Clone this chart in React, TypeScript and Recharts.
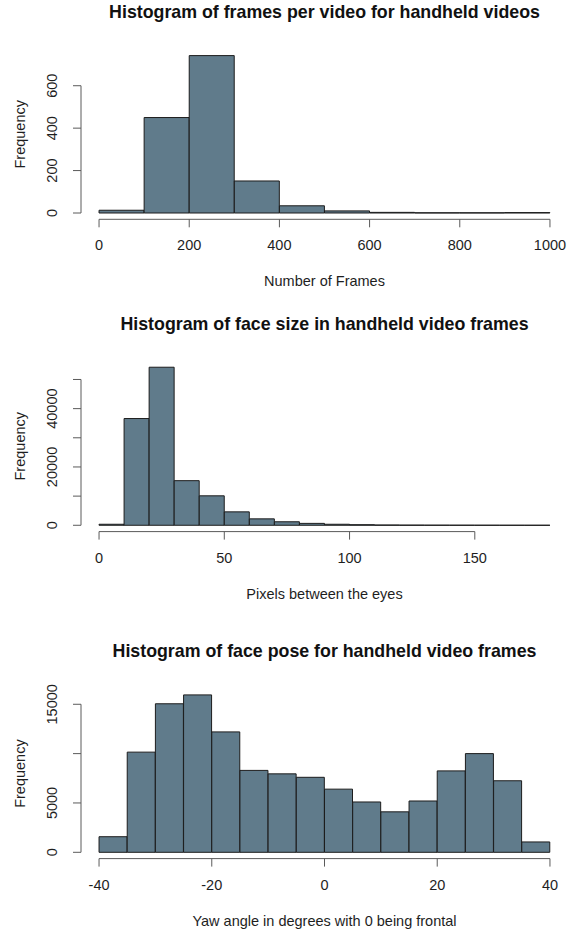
import React from "react";
import { Bar, BarChart, ReferenceLine, XAxis, YAxis } from "recharts";

const FONT = '"Liberation Sans", Arial, Helvetica, sans-serif';
const FILL = "#607b8b";
const EDGE = "#1c1c1c";
const AXIS = "#5a5a5a";
const TEXT = "#1e1e1e";

// frames per video
const frameEdges = [0, 100, 200, 300, 400, 500, 600, 700, 800, 900, 1000];
const frameCounts = [13, 450, 742, 151, 34, 10, 3, 1, 1, 2];
const frameXTicks = [0, 200, 400, 600, 800, 1000];
const frameYTicks = [0, 200, 400, 600];
const frameYLabels = ["0", "200", "400", "600"];

// distance between the eyes
const sizeEdges = [0, 10, 20, 30, 40, 50, 60, 70, 80, 90, 100, 110, 120, 130, 140, 150, 160, 170, 180];
const sizeCounts = [350, 36600, 54200, 15300, 10100, 4600, 2200, 1200, 650, 350, 200, 100, 60, 40, 30, 20, 10, 5];
const sizeXTicks = [0, 50, 100, 150];
const sizeYTicks = [0, 10000, 20000, 30000, 40000, 50000];
const sizeYLabels = ["0", "", "20000", "", "40000", ""];

// yaw angle
const yawEdges = [-40, -35, -30, -25, -20, -15, -10, -5, 0, 5, 10, 15, 20, 25, 30, 35, 40];
const yawCounts = [1580, 10150, 15050, 15950, 12200, 8300, 7950, 7600, 6400, 5100, 4100, 5200, 8250, 10000, 7250, 1050];
const yawXTicks = [-40, -20, 0, 20, 40];
const yawYTicks = [0, 5000, 10000, 15000];
const yawYLabels = ["0", "5000", "", "15000"];

const W = 573;
const Y_AXIS_W = 81;
const RIGHT = 5;
const PLOT_W = W - Y_AXIS_W - RIGHT;
// base graphics pads each axis range by 4% on both sides
const BIN_PAD = (PLOT_W * 0.04) / 1.08;

type HistProps = {
  title: string;
  xLabel: string;
  edges: number[];
  counts: number[];
  xTicks: number[];
  yTicks: number[];
  yLabels: string[];
  top: number;
  height: number;
  plotTop: number;
  axisHeight: number;
  titleY: number;
};

function Histogram(p: HistProps) {
  const data = p.counts.map((c, i) => ({
    bin: `${p.edges[i]}-${p.edges[i + 1]}`,
    mid: (p.edges[i] + p.edges[i + 1]) / 2,
    count: c,
  }));
  const span = p.edges[p.edges.length - 1] - p.edges[0];
  const xLo = p.edges[0] - span * 0.04;
  const xHi = p.edges[p.edges.length - 1] + span * 0.04;
  const maxC = Math.max(...p.counts);
  const yLo = -maxC * 0.04;
  const yHi = maxC * 1.04;
  const xFirst = p.xTicks[0];
  const xLast = p.xTicks[p.xTicks.length - 1];
  const yFirst = p.yTicks[0];
  const yLast = p.yTicks[p.yTicks.length - 1];

  return (
    <div style={{ position: "absolute", left: 0, top: p.top, width: W, height: p.height }}>
      <div
        style={{
          position: "absolute",
          left: Y_AXIS_W,
          width: PLOT_W,
          top: p.titleY - 12,
          height: 22,
          lineHeight: "22px",
          textAlign: "center",
          fontWeight: "bold",
          fontSize: 17.8,
          color: "#111",
          whiteSpace: "nowrap",
        }}
      >
        {p.title}
      </div>
      <BarChart
        width={W}
        height={p.height}
        data={data}
        margin={{ top: p.plotTop, right: RIGHT, left: 0, bottom: 0 }}
        barCategoryGap={0}
        barGap={0}
      >
        <XAxis
          xAxisId="val"
          dataKey="mid"
          type="number"
          domain={[xLo, xHi]}
          allowDataOverflow
          ticks={p.xTicks}
          interval={0}
          height={p.axisHeight}
          axisLine={false}
          stroke={AXIS}
          tickLine={{ stroke: AXIS }}
          tickSize={8}
          tickMargin={18}
          tick={({ x, y, payload }: any) => (
            <text x={x} y={y} dy="0.35em" textAnchor="middle" fontSize={14.5} fontFamily={FONT} fill={TEXT}>
              {payload.value}
            </text>
          )}
          label={(lp: any) => {
            const vb = lp.viewBox;
            return (
              <text
                x={vb.x + vb.width / 2}
                y={vb.y + 62}
                dy="0.35em"
                textAnchor="middle"
                fontSize={14.5}
                fontFamily={FONT}
                fill={TEXT}
              >
                {p.xLabel}
              </text>
            );
          }}
        />
        <XAxis xAxisId="bins" dataKey="bin" hide height={0} padding={{ left: BIN_PAD, right: BIN_PAD }} />
        <YAxis
          type="number"
          domain={[yLo, yHi]}
          allowDataOverflow
          ticks={p.yTicks}
          interval={0}
          width={Y_AXIS_W}
          axisLine={false}
          stroke={AXIS}
          tickLine={{ stroke: AXIS }}
          tickSize={8}
          tickMargin={21}
          tick={({ x, y, payload }: any) => {
            const label = p.yLabels[p.yTicks.indexOf(payload.value)];
            return (
              <text
                x={x}
                y={y}
                dy="0.35em"
                textAnchor="middle"
                transform={`rotate(-90, ${x}, ${y})`}
                fontSize={14.5}
                fontFamily={FONT}
                fill={TEXT}
              >
                {label}
              </text>
            );
          }}
          label={(lp: any) => {
            const vb = lp.viewBox;
            const cx = vb.x + 20;
            const cy = vb.y + vb.height / 2;
            return (
              <text
                x={cx}
                y={cy}
                dy="0.35em"
                textAnchor="middle"
                transform={`rotate(-90, ${cx}, ${cy})`}
                fontSize={14.5}
                fontFamily={FONT}
                fill={TEXT}
              >
                Frequency
              </text>
            );
          }}
        />
        <Bar dataKey="count" xAxisId="bins" fill={FILL} stroke={EDGE} strokeWidth={1} isAnimationActive={false} />
        <ReferenceLine
          xAxisId="val"
          ifOverflow="visible"
          segment={[{ x: xFirst, y: yLo }, { x: xLast, y: yLo }]}
          stroke={AXIS}
          strokeWidth={1}
        />
        <ReferenceLine
          xAxisId="val"
          ifOverflow="visible"
          segment={[{ x: xLo, y: yFirst }, { x: xLo, y: yLast }]}
          stroke={AXIS}
          strokeWidth={1}
        />
      </BarChart>
    </div>
  );
}

export default function App() {
  return (
    <div
      style={{
        position: "absolute",
        left: 0,
        top: 0,
        width: W,
        height: 932,
        background: "#fff",
        fontFamily: FONT,
      }}
    >
      <Histogram
        title="Histogram of frames per video for handheld videos"
        xLabel="Number of Frames"
        edges={frameEdges}
        counts={frameCounts}
        xTicks={frameXTicks}
        yTicks={frameYTicks}
        yLabels={frameYLabels}
        top={0}
        height={300}
        plotTop={49.3}
        axisHeight={80.7}
        titleY={12.7}
      />
      <Histogram
        title="Histogram of face size in handheld video frames"
        xLabel="Pixels between the eyes"
        edges={sizeEdges}
        counts={sizeCounts}
        xTicks={sizeXTicks}
        yTicks={sizeYTicks}
        yLabels={sizeYLabels}
        top={300}
        height={310}
        plotTop={60.9}
        axisHeight={78.4}
        titleY={25}
      />
      <Histogram
        title="Histogram of face pose for handheld video frames"
        xLabel="Yaw angle in degrees with 0 being frontal"
        edges={yawEdges}
        counts={yawCounts}
        xTicks={yawXTicks}
        yTicks={yawYTicks}
        yLabels={yawYLabels}
        top={610}
        height={322}
        plotTop={78.6}
        axisHeight={73.4}
        titleY={42}
      />
    </div>
  );
}
